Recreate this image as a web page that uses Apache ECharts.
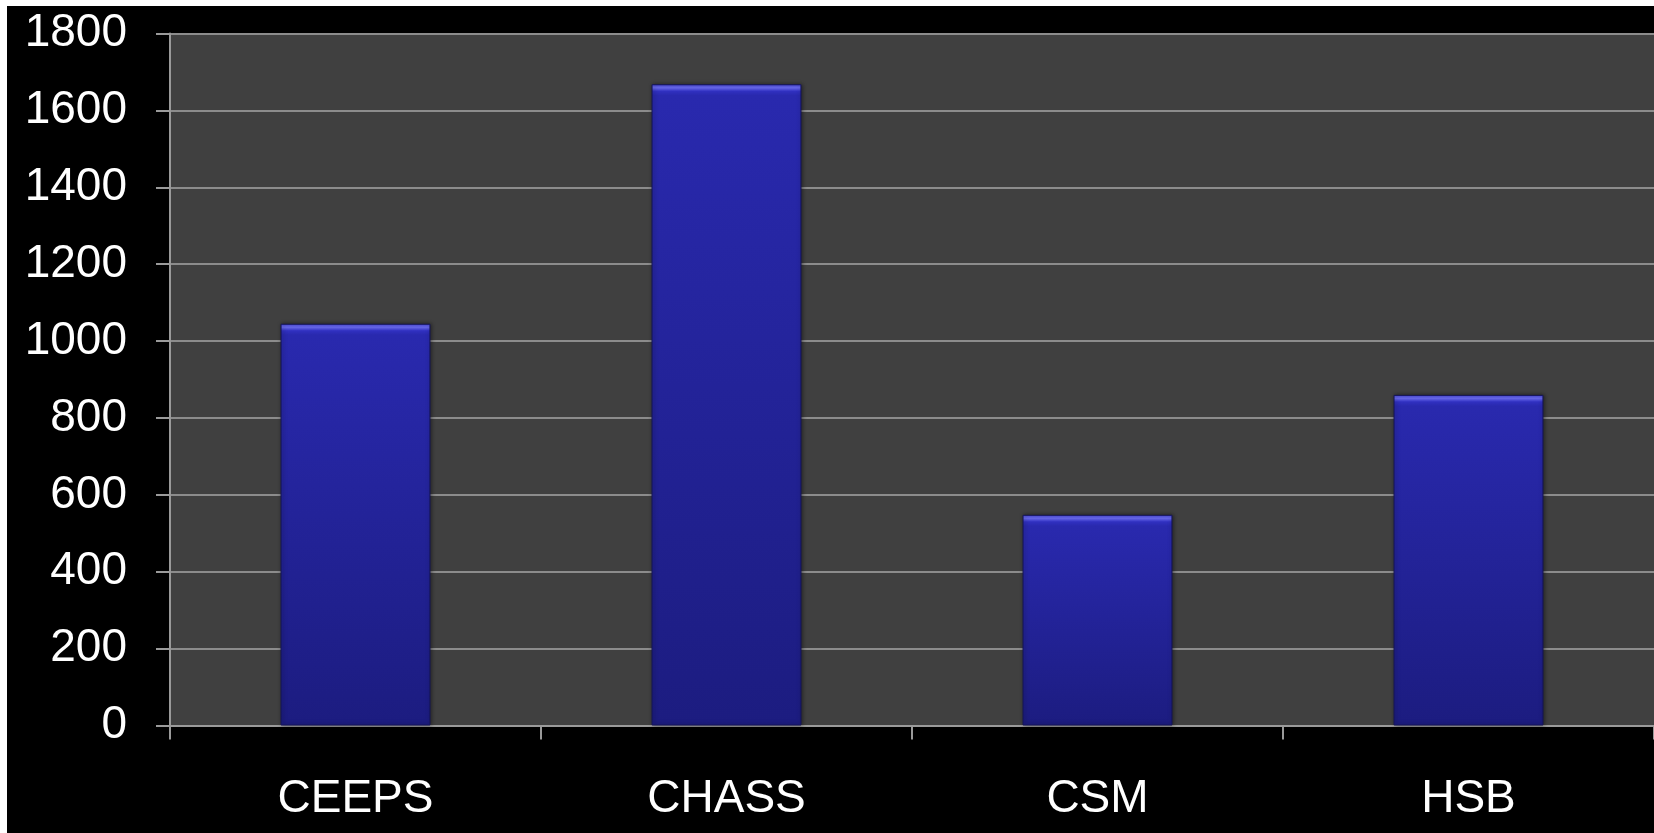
<!DOCTYPE html>
<html>
<head>
<meta charset="utf-8">
<script src="https://cdn.jsdelivr.net/npm/echarts@6/dist/echarts.min.js"></script>
<style>
  html, body { margin: 0; padding: 0; background: #ffffff; }
  #chart { position: absolute; left: 7px; top: 6px; width: 1647px; height: 827px; background: #000000; }
</style>
</head>
<body>
<div id="chart"></div>
<script>
  // data
  const categories = ['CEEPS', 'CHASS', 'CSM', 'HSB'];
  const values = [1045, 1668, 548, 860];
  const yTicks = [0, 200, 400, 600, 800, 1000, 1200, 1400, 1600, 1800];

  const plotHeight = 692; // px between 0 and 1800 lines
  const yMax = yTicks[yTicks.length - 1];

  // bar fill with a thin light bevel at the top
  function barStyle (v) {
    const h = v / yMax * plotHeight;
    const b = 7 / h;
    return {
      color: {
        type: 'linear', x: 0, y: 0, x2: 0, y2: 1,
        colorStops: [
          { offset: 0, color: '#4a4adc' },
          { offset: b * 0.5, color: '#6a6aee' },
          { offset: b, color: '#3030c0' },
          { offset: b * 1.6, color: '#2929ae' },
          { offset: 1, color: '#1c1c80' }
        ]
      },
      borderColor: '#14145a',
      borderWidth: 1,
      shadowColor: 'rgba(0,0,0,0.45)',
      shadowBlur: 4,
      shadowOffsetX: 1
    };
  }

  const chart = echarts.init(document.getElementById('chart'));
  chart.setOption({
    animation: false,
    backgroundColor: '#000000',
    grid: {
      left: 163,
      top: 27.5,
      right: 0,
      bottom: 107.5,
      show: true,
      backgroundColor: '#404040',
      borderWidth: 0
    },
    xAxis: {
      type: 'category',
      data: categories,
      axisLine: { lineStyle: { color: '#9a9a9a', width: 2 } },
      axisTick: { show: true, length: 14, lineStyle: { color: '#9a9a9a', width: 2 } },
      axisLabel: {
        color: '#ffffff',
        fontFamily: 'Liberation Sans',
        fontSize: 46,
        margin: 51
      },
      splitLine: { show: false }
    },
    yAxis: {
      type: 'value',
      min: 0,
      max: yMax,
      interval: 200,
      axisLine: { show: true, lineStyle: { color: '#9a9a9a', width: 2 } },
      axisTick: { show: true, length: 14, lineStyle: { color: '#9a9a9a', width: 2 } },
      axisLabel: {
        color: '#ffffff',
        fontFamily: 'Liberation Sans',
        fontSize: 46,
        margin: 43,
        formatter: v => String(v)
      },
      splitLine: { lineStyle: { color: '#8c8c8c', width: 2 } }
    },
    series: [{
      type: 'bar',
      barWidth: '40.4%',
      data: values.map(v => ({ value: v, itemStyle: barStyle(v) }))
    }]
  });
</script>
</body>
</html>
